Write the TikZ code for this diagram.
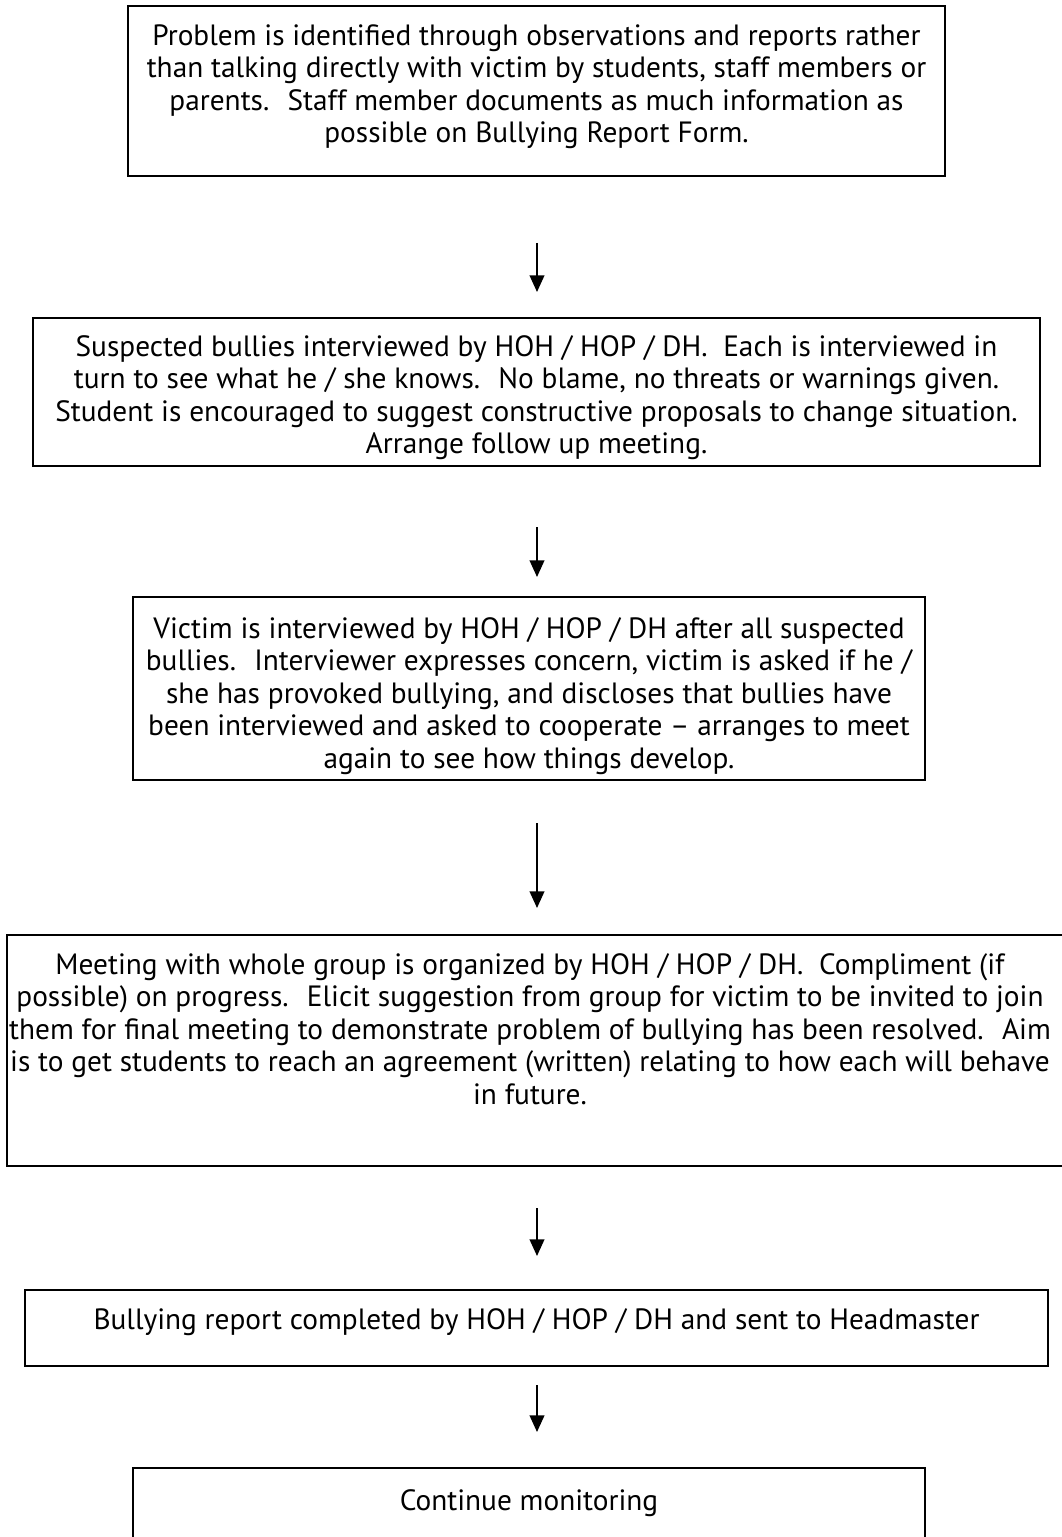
\documentclass[tikz,border=0pt]{standalone}
\usepackage{fontspec}
\setmainfont{PT Sans}
\usetikzlibrary{arrows.meta}
\begin{document}
\begin{tikzpicture}[x=0.75pt,y=-0.75pt,
  flowbox/.style={draw=black,line width=1.5pt,fill=white,inner sep=0pt},
  flowtext/.style={anchor=north,align=center,inner sep=0pt,
    font=\fontsize{22pt}{24.4pt}\selectfont},
  flowarrow/.style={line width=1.4pt,-{Triangle[length=12.5pt,width=11pt]}}]
\useasboundingbox[fill=white] (0,0) rectangle (1062,1537);

% boxes
\draw[flowbox] (128,6) rectangle (945,176);
\draw[flowbox] (33,318) rectangle (1040,466);
\draw[flowbox] (133,597) rectangle (925,780);
\draw[flowbox] (7,935) rectangle (1075,1166);
\draw[flowbox] (25,1290) rectangle (1048,1366);
\draw[flowbox] (133,1468) rectangle (925,1560);

% texts
\node[flowtext] (t1) at (536.5,24) {Problem is identified through observations and reports rather\\
than talking directly with victim by students, staff members or\\
parents.~ Staff member documents as much information as\\
possible on Bullying Report Form.};
\node[flowtext] (t2) at (536.5,335) {Suspected bullies interviewed by HOH / HOP / DH.~ Each is interviewed in\\
turn to see what he / she knows.~ No blame, no threats or warnings given.\\
Student is encouraged to suggest constructive proposals to change situation.\\
Arrange follow up meeting.};
\node[flowtext] (t3) at (529,617) {Victim is interviewed by HOH / HOP / DH after all suspected\\
bullies.~ Interviewer expresses concern, victim is asked if he /\\
she has provoked bullying, and discloses that bullies have\\
been interviewed and asked to cooperate -- arranges to meet\\
again to see how things develop.};
\node[flowtext] (t4) at (530,953) {Meeting with whole group is organized by HOH / HOP / DH.~ Compliment (if\\
possible) on progress.~ Elicit suggestion from group for victim to be invited to join\\
them for final meeting to demonstrate problem of bullying has been resolved.~ Aim\\
is to get students to reach an agreement (written) relating to how each will behave\\
in future.};
\node[flowtext] (t5) at (536.5,1308) {Bullying report completed by HOH / HOP / DH and sent to Headmaster};
\node[flowtext] (t6) at (529,1489) {Continue monitoring};

% arrows between the steps
\coordinate (a1s) at (537,243); \coordinate (a1e) at (537,292);
\coordinate (a2s) at (537,527); \coordinate (a2e) at (537,577);
\coordinate (a3s) at (537,823); \coordinate (a3e) at (537,908);
\coordinate (a4s) at (537,1208); \coordinate (a4e) at (537,1256);
\coordinate (a5s) at (537,1385); \coordinate (a5e) at (537,1432);
\draw[flowarrow] (a1s) -- (a1e);
\draw[flowarrow] (a2s) -- (a2e);
\draw[flowarrow] (a3s) -- (a3e);
\draw[flowarrow] (a4s) -- (a4e);
\draw[flowarrow] (a5s) -- (a5e);
\end{tikzpicture}
\end{document}
